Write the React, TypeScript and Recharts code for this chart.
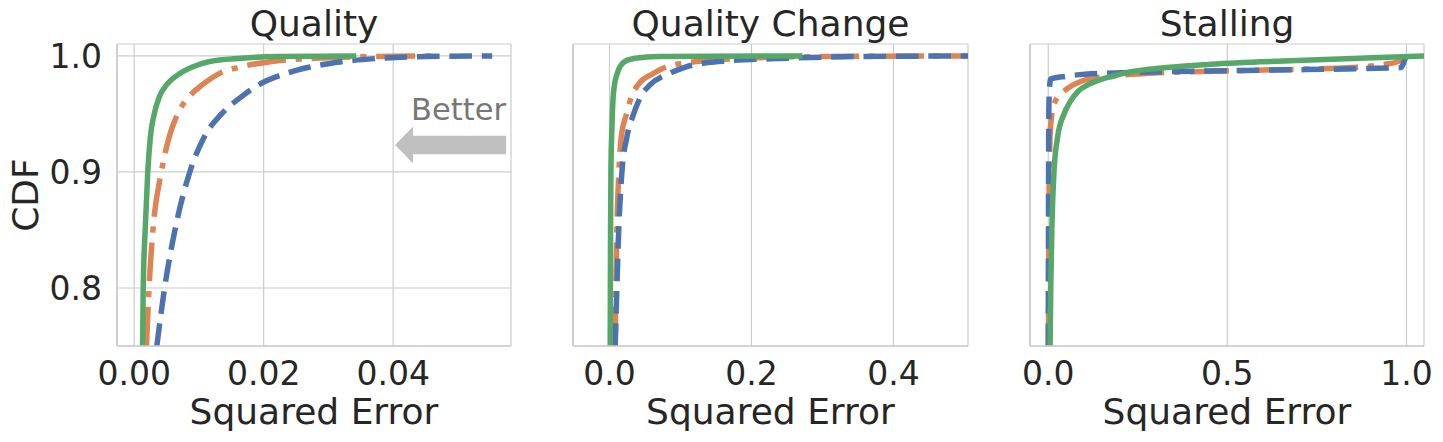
import React from "react";
import {
  LineChart,
  Line,
  XAxis,
  YAxis,
  CartesianGrid,
  ReferenceDot,
  Label,
} from "recharts";

const FONT = "DejaVu Sans, Verdana, sans-serif";
const TEXT = "#262626";
const GRID = "#cccccc";
const BLUE = "#4c72b0";
const ORANGE = "#dd8452";
const GREEN = "#55a868";
const H = 442;

const yTicks = [0.8, 0.9, 1.0];
const yDomain = [0.75, 1.0103];

const qualityLevels = [0.75, 0.8, 0.85, 0.9, 0.93, 0.95, 0.965, 0.975, 0.985, 0.99, 0.995, 0.998, 0.9995, 1.0];
const qualityBlue = [0.0035, 0.0047, 0.0063, 0.0086, 0.0108, 0.0135, 0.0166, 0.0192, 0.0235, 0.0268, 0.032, 0.038, 0.045, 0.0553];
const qualityOrange = [0.0019, 0.0023, 0.0029, 0.0042, 0.0054, 0.0067, 0.0085, 0.0105, 0.0132, 0.016, 0.021, 0.028, 0.036, 0.046];
const qualityGreen = [0.0013, 0.0014, 0.0017, 0.0021, 0.0025, 0.0031, 0.0039, 0.005, 0.0071, 0.0088, 0.0115, 0.0165, 0.022, 0.0343];
const qualityTicks = [0, 0.02, 0.04];

const changeLevels = [0.75, 0.8, 0.85, 0.9, 0.93, 0.95, 0.965, 0.975, 0.985, 0.99, 0.995, 0.998, 0.9995, 1.0];
const changeBlue = [0.008, 0.0104, 0.013, 0.0175, 0.0245, 0.034, 0.044, 0.057, 0.085, 0.105, 0.15, 0.25, 0.35, 0.52];
const changeOrange = [0.008, 0.009, 0.0104, 0.0132, 0.0165, 0.024, 0.031, 0.04, 0.062, 0.078, 0.12, 0.19, 0.3, 0.52];
const changeGreen = [0.001, 0.0012, 0.0015, 0.002, 0.003, 0.004, 0.0052, 0.007, 0.011, 0.014, 0.021, 0.036, 0.07, 0.272];
const changeTicks = [0, 0.2, 0.4];

const stallLevels = [0.75, 0.8, 0.85, 0.9, 0.93, 0.95, 0.96, 0.97, 0.975, 0.98, 0.9825, 0.985, 0.9875, 0.99, 0.9925, 0.995, 0.9975, 1.0];
const stallBlue = [0.0, 0.0003, 0.0006, 0.0009, 0.0012, 0.0015, 0.002, 0.003, 0.004, 0.006, 0.05, 0.15, 0.55, 0.985, 0.99, 0.993, 0.996, 1.0];
const stallOrange = [0.0005, 0.001, 0.0015, 0.003, 0.005, 0.01, 0.018, 0.045, 0.07, 0.11, 0.17, 0.28, 0.55, 0.85, 0.93, 0.975, 0.99, 1.0];
const stallGreen = [0.005, 0.007, 0.01, 0.016, 0.026, 0.044, 0.06, 0.085, 0.11, 0.15, 0.18, 0.21, 0.255, 0.33, 0.44, 0.6, 0.83, 1.05];
const stallTicks = [0, 0.5, 1.0];

const toPoints = (errs: number[], levels: number[]) =>
  levels.map((cdf, i) => ({ err: errs[i], cdf }));

const BetterArrow = (props: any) => {
  const { cx, cy } = props;
  const pts = [
    [cx, cy],
    [cx + 18, cy - 18.5],
    [cx + 18, cy - 9.2],
    [cx + 111, cy - 9.2],
    [cx + 111, cy + 9.2],
    [cx + 18, cy + 9.2],
    [cx + 18, cy + 18.5],
  ]
    .map((p) => p.join(","))
    .join(" ");
  return (
    <g>
      <polygon points={pts} fill="#c0c0c0" />
      <text x={cx + 16} y={cy - 25} fill="#777777" fontSize={30.5} fontFamily={FONT}>
        Better
      </text>
    </g>
  );
};

interface PanelProps {
  title: string;
  left: number;
  width: number;
  yAxisWidth: number;
  marginRight: number;
  showY: boolean;
  levels: number[];
  blue: number[];
  orange: number[];
  green: number[];
  xDomain: number[];
  xTicks: number[];
  decimals: number;
  arrow?: boolean;
}

function Panel(p: PanelProps) {
  const titleX = (p.yAxisWidth + p.width - p.marginRight) / 2;
  return (
    <div style={{ position: "absolute", left: p.left, top: 0, width: p.width, height: H }}>
      <svg
        width={p.width}
        height={44}
        style={{ position: "absolute", left: 0, top: 0 }}
      >
        <text x={titleX} y={36} textAnchor="middle" fill={TEXT} fontSize={36} fontFamily={FONT}>
          {p.title}
        </text>
      </svg>
      <LineChart
        width={p.width}
        height={H}
        margin={{ top: 44, right: p.marginRight, bottom: 16, left: 0 }}
      >
        <CartesianGrid stroke={GRID} strokeWidth={1.2} />
        <XAxis
          type="number"
          dataKey="err"
          domain={p.xDomain}
          ticks={p.xTicks}
          allowDataOverflow
          interval={0}
          tickFormatter={(v: number) => v.toFixed(p.decimals)}
          tickLine={false}
          tickSize={0}
          tickMargin={16}
          height={80}
          axisLine={{ stroke: GRID, strokeWidth: 1.6 }}
          tick={{ fill: TEXT, fontSize: 33, fontFamily: FONT }}
        >
          <Label
            value="Squared Error"
            position="insideBottom"
            offset={2}
            fill={TEXT}
            fontSize={36}
            fontFamily={FONT}
          />
        </XAxis>
        <YAxis
          type="number"
          dataKey="cdf"
          domain={yDomain}
          ticks={yTicks}
          allowDataOverflow
          interval={0}
          width={p.yAxisWidth}
          tickLine={false}
          tickSize={0}
          tickMargin={15}
          axisLine={{ stroke: GRID, strokeWidth: 1.6 }}
          tick={p.showY ? { fill: TEXT, fontSize: 33, fontFamily: FONT } : false}
          tickFormatter={(v: number) => v.toFixed(1)}
        >
          {p.showY && (
            <Label
              value="CDF"
              angle={-90}
              position="insideLeft"
              offset={25}
              fill={TEXT}
              fontSize={36}
              fontFamily={FONT}
              style={{ textAnchor: "middle" }}
            />
          )}
        </YAxis>
        <Line
          data={toPoints(p.orange, p.levels)}
          dataKey="cdf"
          type="monotone"
          stroke={ORANGE}
          strokeWidth={5.5}
          strokeDasharray="39 9.8 6.1 9.8"
          dot={false}
          isAnimationActive={false}
        />
        <Line
          data={toPoints(p.blue, p.levels)}
          dataKey="cdf"
          type="monotone"
          stroke={BLUE}
          strokeWidth={5.5}
          strokeDasharray="22.6 9.8"
          dot={false}
          isAnimationActive={false}
        />
        <Line
          data={toPoints(p.green, p.levels)}
          dataKey="cdf"
          type="monotone"
          stroke={GREEN}
          strokeWidth={5.5}
          dot={false}
          isAnimationActive={false}
        />
        {p.arrow && (
          <ReferenceDot x={0.0403} y={0.9233} shape={BetterArrow} />
        )}
      </LineChart>
    </div>
  );
}

export default function App() {
  return (
    <div
      style={{
        position: "absolute",
        left: 0,
        top: 0,
        width: 1443,
        height: H,
        background: "#ffffff",
      }}
    >
      <Panel
        title="Quality"
        left={0}
        width={520}
        yAxisWidth={117}
        marginRight={9}
        showY
        levels={qualityLevels}
        blue={qualityBlue}
        orange={qualityOrange}
        green={qualityGreen}
        xDomain={[-0.00265, 0.0582]}
        xTicks={qualityTicks}
        decimals={2}
        arrow
      />
      <Panel
        title="Quality Change"
        left={520}
        width={460}
        yAxisWidth={53}
        marginRight={12}
        showY={false}
        levels={changeLevels}
        blue={changeBlue}
        orange={changeOrange}
        green={changeGreen}
        xDomain={[-0.0514, 0.505]}
        xTicks={changeTicks}
        decimals={1}
      />
      <Panel
        title="Stalling"
        left={980}
        width={463}
        yAxisWidth={50}
        marginRight={19}
        showY={false}
        levels={stallLevels}
        blue={stallBlue}
        orange={stallOrange}
        green={stallGreen}
        xDomain={[-0.051, 1.049]}
        xTicks={stallTicks}
        decimals={1}
      />
    </div>
  );
}
